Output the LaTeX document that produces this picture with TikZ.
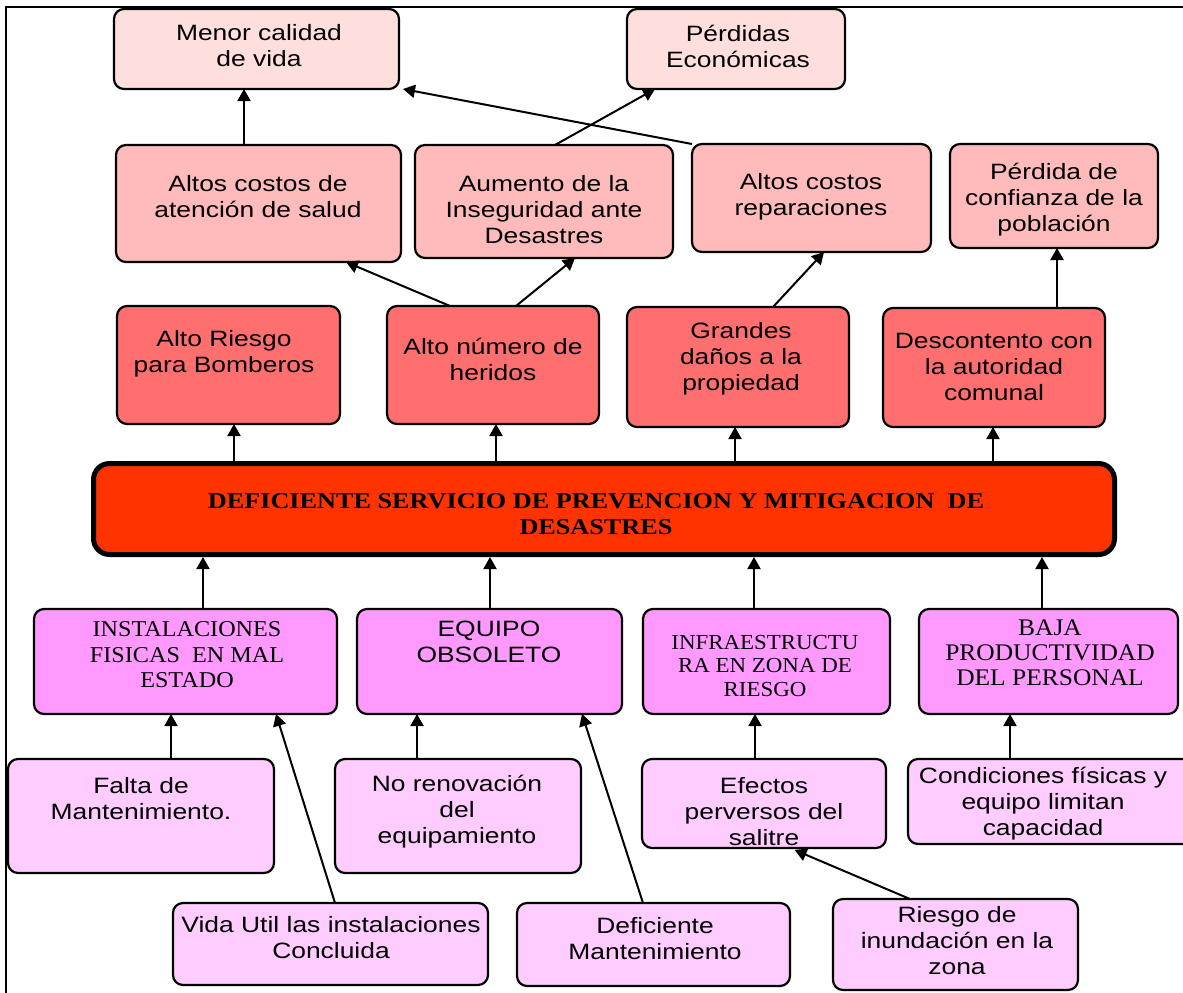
\documentclass[tikz,border=0pt]{standalone}
\usepackage{fontspec}
\setmainfont{Liberation Sans}[FakeStretch=1.19]
\newfontfamily\tnr{Liberation Serif}[FakeStretch=1.07]
\newfontfamily\tnrwide{Liberation Serif}[FakeStretch=1.16]
\usetikzlibrary{arrows.meta}

\definecolor{rowA}{HTML}{FFDEDE}
\definecolor{rowB}{HTML}{FFBBBB}
\definecolor{rowC}{HTML}{FF6F6F}
\definecolor{coreRed}{HTML}{FF3300}
\definecolor{causeA}{HTML}{FF99FF}
\definecolor{causeB}{HTML}{FFCCFF}

\tikzset{
  card/.style={draw=black, line width=1.1pt, rounded corners=5pt, inner sep=0pt, outer sep=0pt},
  corebox/.style={draw=black, fill=coreRed, line width=2.5pt, rounded corners=8pt},
  txt/.style={align=center, inner sep=0pt, font=\fontsize{11.1}{13}\selectfont},
  stxt/.style={align=center, inner sep=0pt, font=\tnr\fontsize{11.3}{12.8}\selectfont},
  arr/.style={line width=1pt, -{Triangle[length=6pt,width=6.5pt]}},
}

% box from its corners, given in pixel units
\newcommand\cardbox[6]{%
  \node[card,#2,minimum width={(#5-#3)*0.5pt},minimum height={(#6-#4)*0.5pt}]
    (#1) at ({(#3+#5)/2},{(#4+#6)/2}) {};}

\begin{document}
\begin{tikzpicture}[x=0.5pt,y=-0.5pt]
\useasboundingbox (0,0) rectangle (1183,992);
\begin{scope}
\clip (0,0) rectangle (1183,992);
\fill[white] (0,0) rectangle (1183,992);

% outer frame
\draw[line width=1pt] (6,1010) -- (6,7) -- (1200,7);

% effects, top row
\cardbox{menor}{fill=rowA}{114}{9}{399}{89}
\cardbox{perd}{fill=rowA}{627}{9}{845}{89}
\node[txt] (menor-t) at (259,46) {Menor calidad\\de vida};
\node[txt] (perd-t) at (738,46) {Pérdidas\\Económicas};

% effects, second row
\cardbox{acs}{fill=rowB}{116}{145}{401}{262}
\cardbox{aum}{fill=rowB}{415}{145}{673}{258}
\cardbox{acr}{fill=rowB}{692}{144}{931}{252}
\cardbox{pconf}{fill=rowB}{950}{144}{1158}{248}
\node[txt] (acs-t) at (258,197) {Altos costos de\\atención de salud};
\node[txt] (aum-t) at (544,210) {Aumento de la\\Inseguridad ante\\Desastres};
\node[txt] (acr-t) at (811,197) {Altos costos\\reparaciones};
\node[txt] (pconf-t) at (1054,200) {Pérdida de\\confianza de la\\población};

% direct effects
\cardbox{arb}{fill=rowC}{117}{306}{340}{424}
\cardbox{anh}{fill=rowC}{387}{306}{599}{424}
\cardbox{gdp}{fill=rowC}{627}{307}{849}{427}
\cardbox{dac}{fill=rowC}{883}{308}{1105}{427}
\node[txt] (arb-t) at (224,354) {Alto Riesgo\\para Bomberos};
\node[txt] (anh-t) at (493,359) {Alto número de\\heridos};
\node[txt] (gdp-t) at (741,359) {Grandes\\daños a la\\propiedad};
\node[txt] (dac-t) at (994,367) {Descontento con\\la autoridad\\comunal};

% central problem
\node[corebox, minimum width={(1114.5-93.5)*0.5pt}, minimum height={(554.5-463.5)*0.5pt}]
  (core) at (604,509) {};
\node[txt, font=\tnrwide\bfseries\fontsize{11.3}{13}\selectfont] (core-t) at (596,514)
  {DEFICIENTE SERVICIO DE PREVENCION Y MITIGACION\ \ DE\\DESASTRES};

% direct causes
\cardbox{inst}{fill=causeA}{34}{609}{337}{714}
\cardbox{equ}{fill=causeA}{357}{609}{622}{714}
\cardbox{infra}{fill=causeA}{643}{609}{890}{714}
\cardbox{baja}{fill=causeA}{919}{609}{1178}{714}
\node[stxt] (inst-t) at (187,655) {INSTALACIONES\\FISICAS\ \ EN MAL\\ESTADO};
\node[txt] (equ-t) at (489,642) {EQUIPO\\OBSOLETO};
\node[stxt, font=\tnr\fontsize{10.7}{11.6}\selectfont] (infra-t) at (765,666) {INFRAESTRUCTU\\RA EN ZONA DE\\RIESGO};
\node[stxt, font=\tnr\fontsize{11.9}{12.6}\selectfont] (baja-t) at (1050,653) {BAJA\\PRODUCTIVIDAD\\DEL PERSONAL};

% underlying causes
\cardbox{falta}{fill=causeB}{8}{759}{274}{873}
\cardbox{noren}{fill=causeB}{335}{759}{581}{873}
\cardbox{efec}{fill=causeB}{642}{759}{886}{848}
\cardbox{cond}{fill=causeB}{908}{759}{1200}{844}
\node[txt] (falta-t) at (141,799) {Falta de\\Mantenimiento.};
\node[txt] (noren-t) at (457,812) {No renovación\\del\\equipamiento};
\node[txt] (efec-t) at (764,812) {Efectos\\perversos del\\salitre};
\node[txt] (cond-t) at (1043,804) {Condiciones físicas y\\equipo limitan\\capacidad};

\cardbox{vida}{fill=causeB}{173}{903}{488}{985}
\cardbox{defm}{fill=causeB}{517}{903}{790}{986}
\cardbox{riesgo}{fill=causeB}{833}{899}{1078}{990}
\node[txt] (vida-t) at (331,938) {Vida Util las instalaciones\\Concluida};
\node[txt] (defm-t) at (655,939) {Deficiente\\Mantenimiento};
\node[txt] (riesgo-t) at (957,941) {Riesgo de\\inundación en la\\zona};

% connectors between effects
\draw[arr] (acs.north -| 244,0) -- (menor.south -| 244,0);
\draw[arr] (acr.north west) -- (menor.south -| 403,0);
\draw[arr] (aum.north -| 555,0) -- (perd.south -| 655,0);
\draw[arr] (anh.north -| 450,0) -- (acs.south -| 346,0);
\draw[arr] (anh.north -| 516,0) -- (aum.south -| 575,0);
\draw[arr] (gdp.north -| 773,0) -- (acr.south -| 824,0);
\draw[arr] (dac.north -| 1057,0) -- (pconf.south -| 1057,0);

% central problem to its effects
\draw[arr] (core.north -| 234,0) -- (arb.south -| 234,0);
\draw[arr] (core.north -| 496,0) -- (anh.south -| 496,0);
\draw[arr] (core.north -| 735,0) -- (gdp.south -| 735,0);
\draw[arr] (core.north -| 993,0) -- (dac.south -| 993,0);

% causes to the central problem
\draw[arr] (inst.north -| 203,0) -- (core.south -| 203,0);
\draw[arr] (equ.north -| 490,0) -- (core.south -| 490,0);
\draw[arr] (infra.north -| 754,0) -- (core.south -| 754,0);
\draw[arr] (baja.north -| 1042,0) -- (core.south -| 1042,0);

% underlying causes to direct causes
\draw[arr] (falta.north -| 171,0) -- (inst.south -| 171,0);
\draw[arr] (vida.north -| 335,0) -- (inst.south -| 276,0);
\draw[arr] (noren.north -| 417,0) -- (equ.south -| 417,0);
\draw[arr] (defm.north -| 643,0) -- (equ.south -| 582,0);
\draw[arr] (efec.north -| 755,0) -- (infra.south -| 755,0);
\draw[arr] (cond.north -| 1010,0) -- (baja.south -| 1010,0);
\draw[arr, shorten >=2.5pt] (riesgo.north -| 910,0) -- (efec.south -| 790,0);
\end{scope}
\end{tikzpicture}
\end{document}
